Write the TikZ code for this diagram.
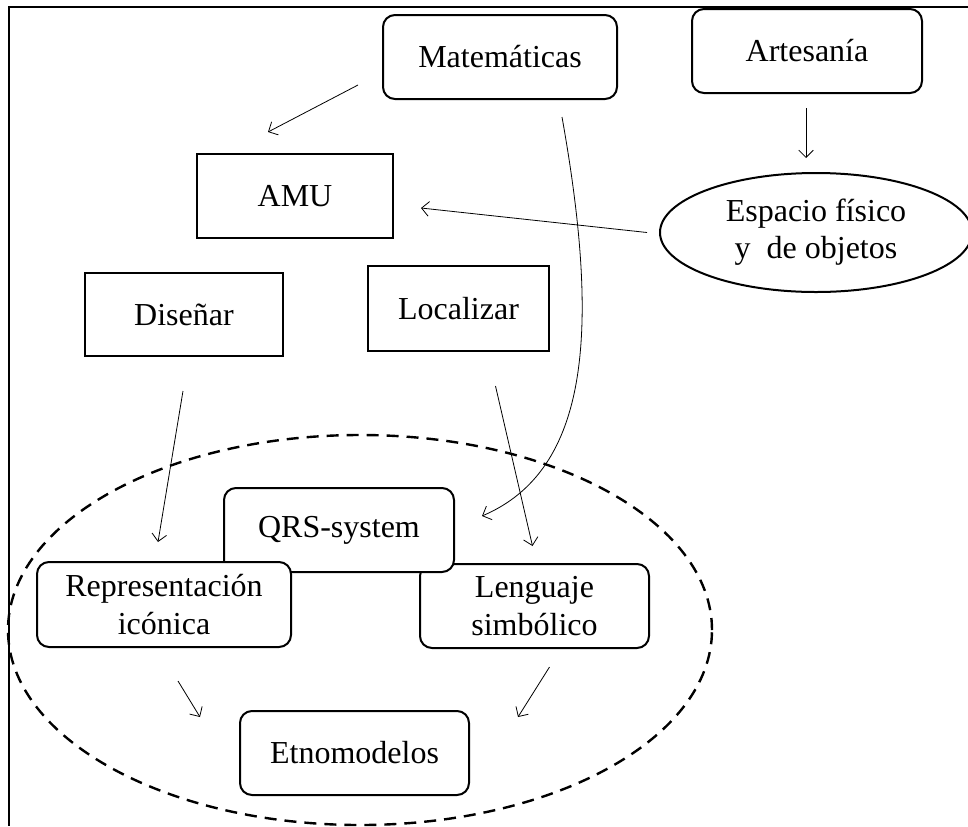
\documentclass[tikz,border=0pt]{standalone}
\usepackage{fontspec}
\setmainfont{Liberation Serif}
\usetikzlibrary{arrows.meta,shapes.geometric}

\begin{document}
\begin{tikzpicture}[x=0.75pt,y=-0.75pt,
		box/.style={draw,line width=1.5pt,fill=white,align=center,inner sep=0pt,font=\fontsize{24}{28}\selectfont},
		rbox/.style={box,rounded corners=9pt},
		oval/.style={box,ellipse},
		arr/.style={line width=0.6pt,-{Straight Barb[length=5.5pt,width=11pt]}}]
		%%%%% START %%%%%
		\useasboundingbox (0,0) rectangle (968,826);
		\draw[line width=1.5pt] (968,7) -- (9,7) -- (9,826);
		
		\draw[line width=1.8pt,dash pattern=on 9pt off 6pt] (360,630) ellipse [x radius=264pt, y radius=146.25pt];
		
		\node[rbox,minimum width=175.5pt,minimum height=63pt] (mat) at (500,57) {Matemáticas};
		\node[rbox,minimum width=172.5pt,minimum height=63pt] (art) at (807,51) {Artesanía};
		\node[box,minimum width=147pt,minimum height=63pt] (amu) at (295,196) {AMU};
		\node[box,minimum width=148.5pt,minimum height=62.25pt] (dis) at (184,314.5) {Diseñar};
		\node[box,minimum width=135.75pt,minimum height=63.75pt] (loc) at (458.5,308.5) {Localizar};
		\node[oval,minimum width=234pt,minimum height=89.25pt] (esp) at (816,232.5) {Espacio físico\\y\ \ de objetos};
		
		\node[rbox,minimum width=171.75pt,minimum height=63pt] (len) at (534.5,606) {Lenguaje\\simbólico};
		\node[rbox,minimum width=172.5pt,minimum height=63pt] (qrs) at (339,530) {QRS-system};
		\node[rbox,minimum width=190.5pt,minimum height=63.75pt] (rep) at (164,604.5) {Representación\\icónica};
		\node[rbox,minimum width=171.75pt,minimum height=63pt] (etn) at (354.5,753) {Etnomodelos};
		
		\draw[arr] ([shift={(-24,-15)}]mat.south west) -- ([shift={(-27,-21)}]amu.north);
		\draw[arr] ([shift={(-1,14)}]art.south) -- ([shift={(-10,-14)}]esp.north);
		\draw[arr] ([shift={(-12,0)}]esp.west) -- ([shift={(27,12)}]amu.east);
		\draw[arr] ([shift={(62,17)}]mat.south) .. controls (600,330) and (590,470) .. ([shift={(27,-14)}]qrs.east);
		
		\draw[arr] ([shift={(-1,34)}]dis.south) -- ([shift={(-6,-19)}]rep.north);
		\draw[arr] ([shift={(37,34)}]loc.south) -- ([shift={(-2,-17)}]len.north);
		\draw[arr] ([shift={(14,33)}]rep.south) -- ([shift={(-39,-36)}]etn.west);
		\draw[arr] ([shift={(15,18)}]len.south) -- ([shift={(48,-36)}]etn.east);
		%%%%% END %%%%%
\end{tikzpicture}
\end{document}
